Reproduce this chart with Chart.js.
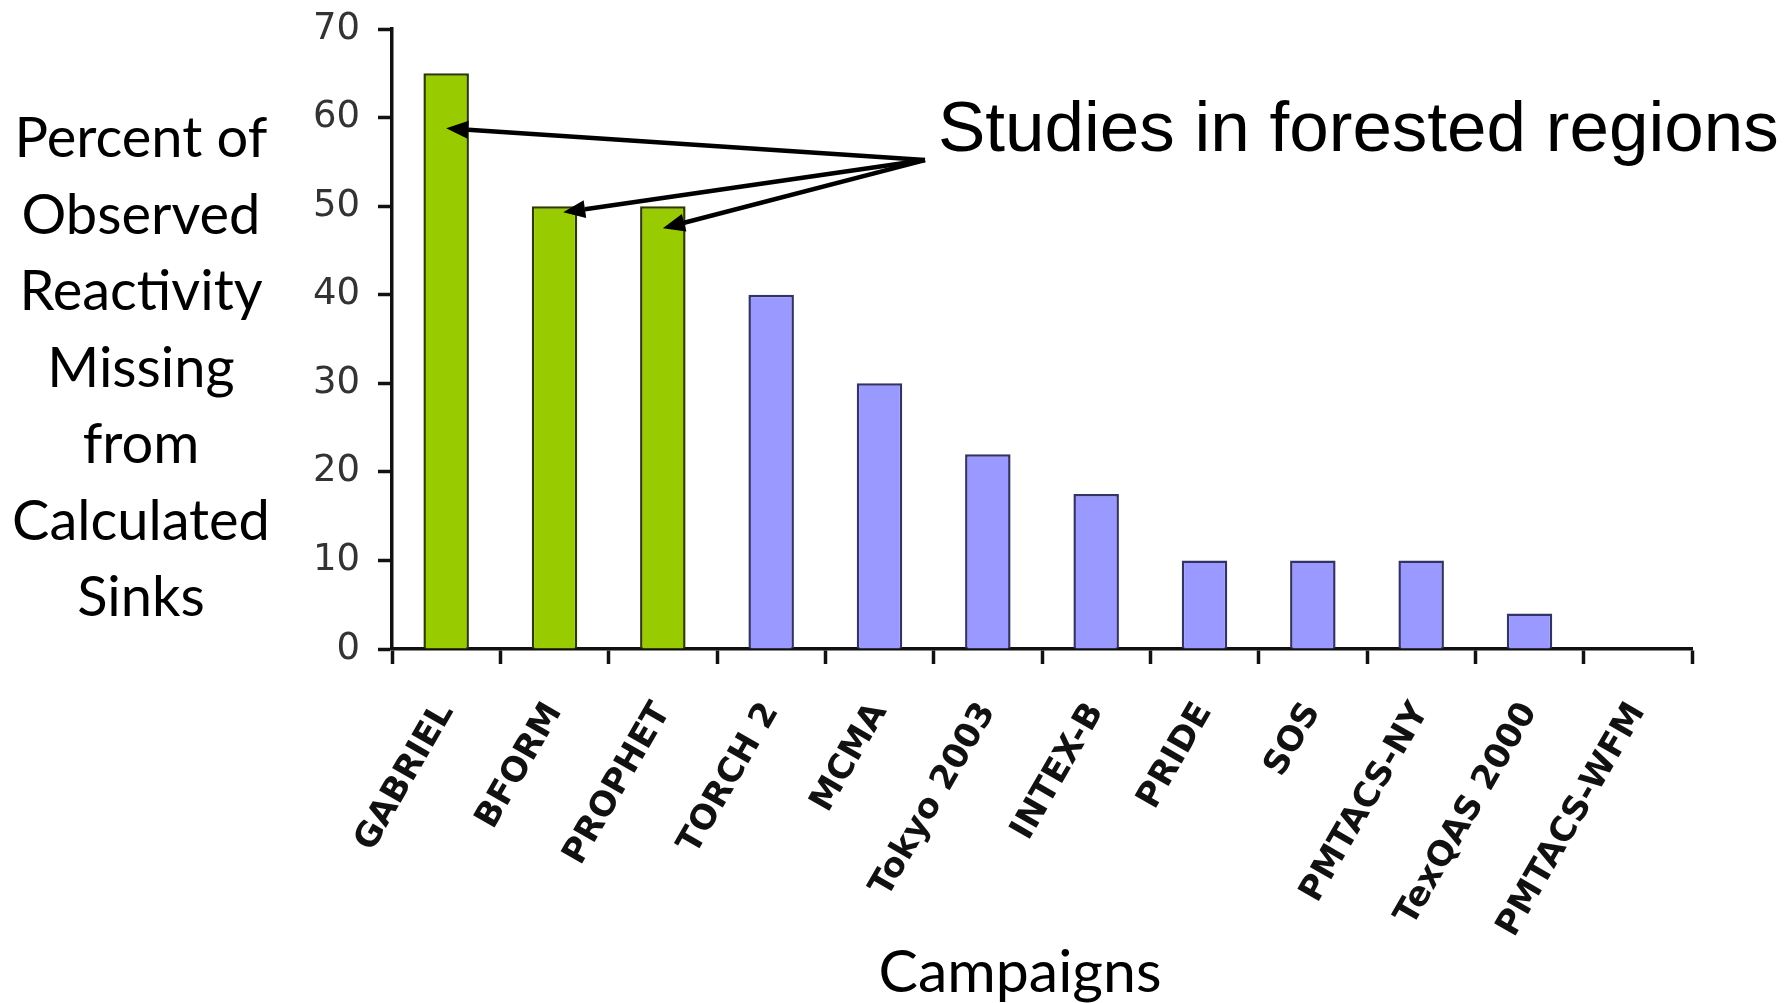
<!DOCTYPE html>
<html>
<head>
<meta charset="utf-8">
<script src="https://cdn.jsdelivr.net/npm/chart.js@4"></script>
<style>
  html, body { margin: 0; padding: 0; background: #fff; }
  #wrap { position: relative; width: 1787px; height: 1003px; }
  #chart { position: absolute; left: 0; top: 0; }
  .ytitle {
    position: absolute; left: 0; top: 98px; width: 282px;
    font-family: Lato, sans-serif; font-size: 56px; line-height: 76.5px;
    text-align: center; color: #000;
  }
  .xtitle {
    position: absolute; left: 820px; top: 934px; width: 400px;
    font-family: Lato, sans-serif; font-size: 59px; text-align: center; color: #000;
  }
  .note {
    position: absolute; left: 938px; top: 86px; white-space: nowrap;
    font-family: "Liberation Sans", Arial, sans-serif; font-size: 71px; color: #000;
  }
</style>
</head>
<body>
<div id="wrap">
  <canvas id="chart" width="1787" height="1003"></canvas>
  <div class="ytitle">Percent of<br>Observed<br>Reactivity<br>Missing<br>from<br>Calculated<br>Sinks</div>
  <div class="xtitle">Campaigns</div>
  <div class="note">Studies in forested regions</div>
</div>
<script>
const campaigns = ['GABRIEL', 'BFORM', 'PROPHET', 'TORCH 2', 'MCMA', 'Tokyo 2003',
  'INTEX-B', 'PRIDE', 'SOS', 'PMTACS-NY', 'TexQAS 2000', 'PMTACS-WFM'];
const missingPct = [65, 50, 50, 40, 30, 22, 17.5, 10, 10, 10, 4, 0];
const forested = [true, true, true, false, false, false, false, false, false, false, false, false];
const yTicks = [0, 10, 20, 30, 40, 50, 60, 70];

// arrows from the note down to the forested bars (category index, value)
const noteAnchor = { x: 4.42, y: 55.2 };
const arrowTips = [
  { x: 0.0, y: 58.8 },
  { x: 1.08, y: 49.3 },
  { x: 2.0, y: 47.5 }
];

const arrowPlugin = {
  id: 'arrows',
  afterDatasetsDraw(chart) {
    const ctx = chart.ctx;
    const xs = chart.scales.x, ys = chart.scales.y;
    const ox = xs.getPixelForValue(noteAnchor.x), oy = ys.getPixelForValue(noteAnchor.y);
    ctx.save();
    ctx.strokeStyle = '#000';
    ctx.fillStyle = '#000';
    ctx.lineWidth = 4.5;
    arrowTips.forEach(t => {
      const tx = xs.getPixelForValue(t.x), ty = ys.getPixelForValue(t.y);
      const ang = Math.atan2(ty - oy, tx - ox);
      const len = 22, half = 9;
      const bx = tx - len * Math.cos(ang), by = ty - len * Math.sin(ang);
      ctx.beginPath();
      ctx.moveTo(ox, oy);
      ctx.lineTo(bx, by);
      ctx.stroke();
      ctx.beginPath();
      ctx.moveTo(tx, ty);
      ctx.lineTo(bx + half * Math.sin(ang), by - half * Math.cos(ang));
      ctx.lineTo(bx - half * Math.sin(ang), by + half * Math.cos(ang));
      ctx.closePath();
      ctx.fill();
    });
    ctx.restore();
  }
};

// fixed box sizes so the plot area sits where the layout wants it
function fixBox(w, h) {
  return s => {
    if (w) s.width = w;
    if (h) s.height = h;
    s.paddingTop = 0; s.paddingBottom = 0;
    s.paddingLeft = 0; s.paddingRight = 0;
  };
}

const ctx = document.getElementById('chart').getContext('2d');
new Chart(ctx, {
  type: 'bar',
  data: {
    labels: campaigns,
    datasets: [{
      data: missingPct,
      backgroundColor: forested.map(f => f ? '#99cc00' : '#9999ff'),
      borderColor: forested.map(f => f ? '#2e3a00' : '#333366'),
      borderWidth: 2.5,
      categoryPercentage: 1,
      barPercentage: 0.42
    }]
  },
  options: {
    responsive: false,
    animation: false,
    layout: { padding: { left: 0, top: 29, right: 95, bottom: 0 } },
    plugins: { legend: { display: false }, tooltip: { enabled: false } },
    scales: {
      x: {
        afterFit: fixBox(0, 354),
        grid: { drawOnChartArea: false, drawTicks: true, tickLength: 15, tickWidth: 3.5, tickColor: '#111', offset: true },
        border: { color: '#111', width: 3.5 },
        ticks: {
          autoSkip: false, minRotation: 60, maxRotation: 60, padding: 32,
          color: '#111', font: { family: 'DejaVu Sans', size: 34, weight: 'bold' }
        }
      },
      y: {
        min: 0, max: 70,
        afterFit: fixBox(392, 0),
        afterBuildTicks: s => { s.ticks = yTicks.map(v => ({ value: v })); },
        grid: { drawOnChartArea: false, drawTicks: true, tickLength: 14, tickWidth: 3.5, tickColor: '#111' },
        border: { color: '#111', width: 3.5 },
        ticks: { padding: 18, color: '#333', font: { family: 'DejaVu Sans', size: 37 } }
      }
    }
  },
  plugins: [arrowPlugin]
});
</script>
</body>
</html>
